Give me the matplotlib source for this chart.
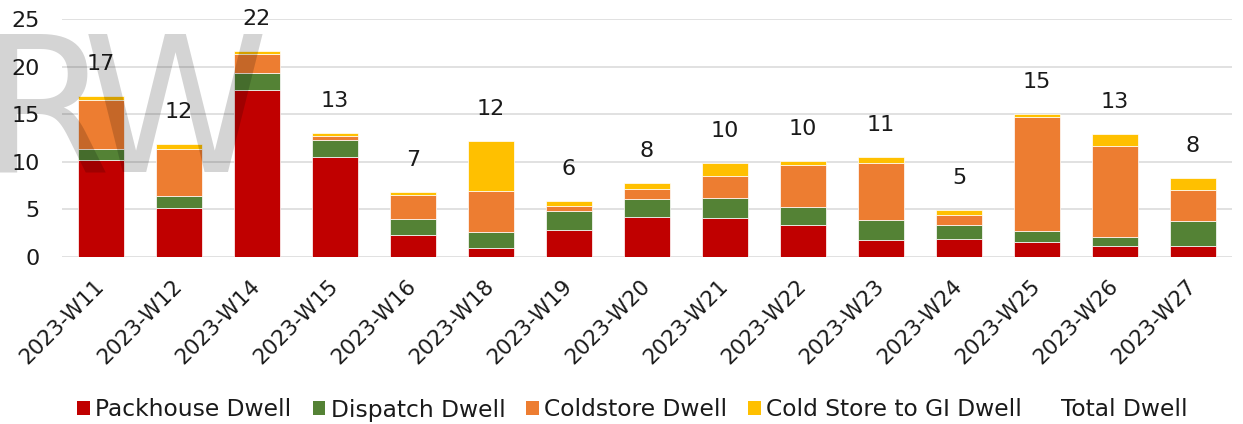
import matplotlib
matplotlib.use("Agg")
import matplotlib.pyplot as plt
from matplotlib.patches import Patch
import numpy as np

plt.rcParams['font.family'] = ['DejaVu Sans']

weeks = ['2023-W11', '2023-W12', '2023-W14', '2023-W15', '2023-W16',
         '2023-W18', '2023-W19', '2023-W20', '2023-W21', '2023-W22',
         '2023-W23', '2023-W24', '2023-W25', '2023-W26', '2023-W27']
packhouse = [10.17, 5.15, 17.53, 10.52, 2.25, 0.95, 2.78, 4.17, 4.10, 3.33, 1.72, 1.83, 1.55, 1.16, 1.16]
dispatch = [1.19, 1.23, 1.82, 1.78, 1.75, 1.68, 2.06, 1.86, 2.10, 1.86, 2.17, 1.50, 1.12, 0.88, 2.56]
coldstore = [5.09, 4.98, 2.00, 0.42, 2.52, 4.31, 0.52, 1.12, 2.32, 4.42, 5.99, 1.09, 12.05, 9.63, 3.26]
cs_to_gi = [0.42, 0.46, 0.31, 0.28, 0.32, 5.26, 0.53, 0.60, 1.30, 0.45, 0.64, 0.52, 0.25, 1.19, 1.26]

series = [
    ('Packhouse Dwell', packhouse, '#C00000'),
    ('Dispatch Dwell', dispatch, '#548235'),
    ('Coldstore Dwell', coldstore, '#ED7D31'),
    ('Cold Store to GI Dwell', cs_to_gi, '#FFC000'),
]

fig = plt.figure(figsize=(12.43, 4.24), dpi=100)
ax = fig.add_axes([62 / 1243, 1 - 256.7 / 424, 1170 / 1243, 237.7 / 424])

x = np.arange(len(weeks))
bottom = np.zeros(len(weeks))
for name, vals, col in series:
    ax.bar(x, vals, 0.58, bottom=bottom, color=col, edgecolor='#FFFFFF',
           linewidth=0.5, label=name, zorder=2)
    bottom += np.array(vals)

# total dwell labels (invisible series in the original)
for i, tot in enumerate(bottom):
    ax.annotate(f"{tot:.0f}", (i, tot), xytext=(0, 23), textcoords='offset points',
                ha='center', va='center', fontsize=16, color='#1a1a1a')

ax.set_xlim(-0.5, len(weeks) - 0.5)
ax.set_ylim(0, 25)
ax.set_yticks(range(0, 26, 5))
ax.grid(axis='y', color='#D9D9D9', linewidth=1.1, zorder=0)
ax.set_axisbelow(True)
for s in ax.spines.values():
    s.set_visible(False)
ax.tick_params(axis='both', length=0, labelsize=16, colors='#1a1a1a')
ax.tick_params(axis='y', pad=16)
ax.tick_params(axis='x', pad=19, labelsize=15.5)
ax.set_xticks(x)
ax.set_xticklabels(weeks, rotation=45, ha='right', va='center', rotation_mode='anchor')

handles = [Patch(facecolor=c, edgecolor='none') for _, _, c in series]
handles.append(Patch(facecolor='none', edgecolor='none'))
labels = [n for n, _, _ in series] + ['Total Dwell']
fig.legend(handles, labels, loc='center', bbox_to_anchor=(0.509, 1 - 410 / 424),
           ncol=5, frameon=False, fontsize=16.8, handlelength=0.52, handleheight=0.52,
           handletextpad=0.25, columnspacing=0.9, labelcolor='#1a1a1a',
           borderpad=0, borderaxespad=0)

# faint "RW" watermark, letters placed one by one
wm_font = ['Liberation Sans Narrow', 'DejaVu Sans']
fig.text(-20 / 1243, 1 - 172 / 424, 'R', fontsize=136, color='black', alpha=0.17,
         family=wm_font, va='baseline', ha='left', zorder=10)
fig.text(82 / 1243, 1 - 172 / 424, 'W', fontsize=136, color='black', alpha=0.17,
         family=wm_font, va='baseline', ha='left', zorder=10)

fig.savefig('out.png', dpi=100)
